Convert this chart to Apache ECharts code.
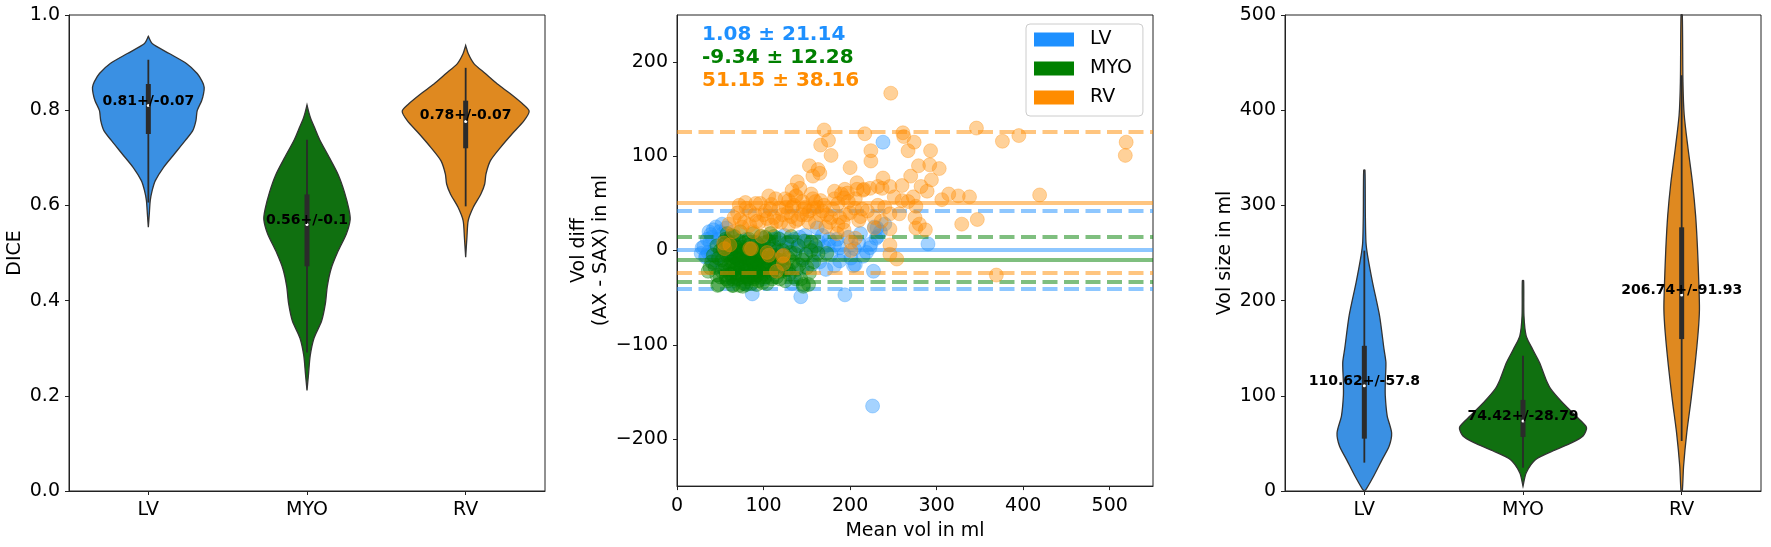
<!DOCTYPE html>
<html>
<head>
<meta charset="utf-8">
<script src="https://cdn.jsdelivr.net/npm/echarts@6/dist/echarts.min.js"></script>
<style>
html,body{margin:0;padding:0;background:#fff;}
#chart{width:1771px;height:547px;}
</style>
</head>
<body>
<div id="chart"></div>
<script>
const categories = ['LV', 'MYO', 'RV'];
const lineColors = ['#1E90FF', '#008000', '#FF8C00'];
const violinColors = ['#3a90e3', '#107010', '#df8920'];

// DICE violins: [value, relative half width]
const diceLvShape = [[0.955,0],[0.940,0.06],[0.919,0.33],[0.898,0.60],[0.877,0.77],[0.860,0.85],[0.848,0.88],[0.835,0.87],[0.820,0.84],[0.799,0.77],[0.778,0.75],[0.757,0.70],[0.736,0.58],[0.708,0.41],[0.680,0.24],[0.652,0.11],[0.631,0.06],[0.610,0.03],[0.582,0.015],[0.554,0]];
const diceMyoShape = [[0.811,0],[0.795,0.03],[0.782,0.06],[0.760,0.13],[0.738,0.20],[0.701,0.35],[0.665,0.49],[0.628,0.59],[0.592,0.66],[0.570,0.68],[0.540,0.62],[0.504,0.49],[0.467,0.38],[0.430,0.32],[0.394,0.29],[0.357,0.23],[0.321,0.11],[0.284,0.05],[0.247,0.025],[0.211,0]];
const diceRvShape = [[0.936,0],[0.919,0.04],[0.898,0.13],[0.877,0.31],[0.855,0.50],[0.834,0.71],[0.813,0.90],[0.798,1.0],[0.778,0.92],[0.750,0.73],[0.722,0.55],[0.694,0.39],[0.666,0.32],[0.645,0.30],[0.624,0.24],[0.596,0.12],[0.568,0.04],[0.533,0.02],[0.491,0]];
const diceQ1 = [0.750, 0.472, 0.720];
const diceQ3 = [0.855, 0.623, 0.820];
const diceWhiskerLo = [0.606, 0.291, 0.598];
const diceWhiskerHi = [0.906, 0.738, 0.889];
const diceMedian = [0.810, 0.560, 0.776];
const diceMean = [0.81, 0.56, 0.78];
const diceMeanText = ['0.81', '0.56', '0.78'];
const diceStdText = ['0.07', '0.1', '0.07'];

// Volume violins
const volLvShape = [[337,0.01],[290,0.016],[261,0.026],[247,0.052],[219,0.13],[184,0.24],[149,0.31],[135,0.34],[114,0.33],[100,0.33],[79,0.36],[61,0.43],[47,0.39],[33,0.28],[16,0.15],[2,0.03],[0,0]];
const volMyoShape = [[221,0.01],[184,0.015],[163,0.05],[149,0.15],[135,0.26],[117.5,0.36],[107,0.44],[93,0.62],[79,0.83],[67,1.0],[58,0.95],[51,0.78],[42,0.47],[33,0.2],[19,0.05],[5,0]];
const volRvShape = [[500,0.01],[430,0.02],[395,0.04],[360,0.10],[324,0.17],[289,0.22],[254,0.25],[219,0.27],[191,0.28],[167,0.26],[132,0.21],[97,0.15],[61,0.08],[26,0.03],[0,0.01]];
const volQ1 = [55, 56.8, 159.6];
const volQ3 = [152.5, 95.7, 277];
const volWhiskerLo = [29.8, 24.5, 52.6];
const volWhiskerHi = [252.5, 142, 436.6];
const volMedian = [110.5, 73.6, 205.9];
const volMean = [110.62, 74.42, 206.74];
const volMeanText = ['110.62', '74.42', '206.74'];
const volStdText = ['57.8', '28.79', '91.93'];

// Bland-Altman: [mean vol, vol diff]
const lvPoints = [[238,115],[226,-165],[290,7],[227,-22],[194,-47],[143,-49],[87,-46],[182,-16],[204,-16],[231,24],[230,13],[223,3],[219,-2],[193,-4],[188,3],[201,-8],[170,4],[162,2],[153,4],[133,-35],[49,20],[40,14],[29,3],[34,-6],[38,9],[65,-32],[79,-33],[124,16],[129,9],[117,13],[109,9],[100,13],[91,9],[73,5],[60,2],[47,-6],[42,-13],[148,16],[162,24],[228,25],[232,15],[224,7],[31,4],[39,17],[33,-7],[55,10],[62,-3],[70,-8],[85,-2],[95,-10],[105,-5],[112,2],[120,-12],[140,5],[145,-8],[150,10],[158,-3],[165,-12],[175,6],[178,-4],[185,12],[198,14],[205,2],[210,8],[215,-6],[235,20],[240,28],[212,18],[52,-18],[58,8],[75,-18],[90,-25],[100,-30],[128,-20],[135,-28],[110,-22],[145,-18],[44,3],[36,-2],[66,15],[80,12],[118,-4],[136,12],[156,-15],[172,-20],[188,-11],[206,-15],[45,25],[52,28],[35,12],[28,-3],[37,20],[42,22],[48,12],[53,18],[57,24],[44,-10],[40,-4],[112,12],[120,8],[126,4],[132,10],[138,2],[142,14],[163,10],[168,16],[176,12],[182,6]];
const myoPoints = [[36,-22],[40,-12],[42,-5],[44,-18],[46,5],[48,-36],[50,-28],[52,-10],[53,2],[55,-20],[56,12],[58,-5],[59,-32],[60,-15],[61,8],[62,-25],[63,-2],[64,-37],[65,-12],[66,15],[67,-20],[68,-8],[69,3],[70,-30],[71,-15],[72,10],[73,-5],[74,-25],[75,-12],[76,0],[77,-35],[78,-18],[79,5],[80,-8],[81,-28],[82,-15],[83,12],[84,-2],[85,-22],[86,-35],[87,-10],[88,2],[89,-18],[90,-28],[91,-5],[92,8],[93,-15],[94,-32],[95,-22],[96,-8],[97,15],[98,-12],[100,-25],[101,0],[102,-18],[104,-35],[105,-8],[106,10],[108,-20],[110,-30],[111,-5],[112,5],[114,-15],[115,-28],[117,-10],[118,12],[120,-22],[122,0],[124,-15],[125,-32],[127,8],[129,-8],[130,-25],[132,15],[134,-12],[136,-3],[138,-20],[140,5],[143,-30],[145,-10],[147,10],[150,-18],[152,-36],[155,0],[158,-12],[160,5],[163,-3],[112,15],[108,18],[102,14],[88,18],[76,-38],[66,-28],[58,18],[46,-26],[38,-18],[47,-37],[146,-38],[73,20],[63,16],[146,-36],[129,-20],[173,-3],[155,9],[48,-8],[50,0],[52,-22],[54,6],[55,-14],[57,-26],[58,10],[60,-4],[61,-20],[62,2],[63,-12],[64,-30],[66,-6],[67,6],[68,-24],[69,-14],[70,0],[71,-26],[72,-10],[73,4],[74,-18],[76,-28],[77,-6],[78,8],[79,-22],[80,-14],[81,0],[82,-30],[83,-8],[84,6],[85,-16],[86,-26],[87,-2],[88,-12],[89,-30],[90,2],[91,-20],[92,-12],[93,-26],[94,0],[95,-16],[96,4],[97,-28],[98,-6],[99,-20],[100,8],[101,-14],[102,-28],[103,-4],[104,-20],[106,-12],[107,2],[109,-24],[110,-8],[113,-18],[116,0],[119,-30],[121,-10],[126,-20],[131,-2],[137,-30],[141,-15],[149,-4],[153,-24],[57,-30],[65,-37],[72,-37],[80,-36],[92,-36],[99,-34]];
const rvPoints = [[247,167],[346,130],[376,116],[395,122],[519,115],[518,101],[419,59],[369,-26],[347,33],[329,28],[338,57],[325,58],[314,60],[306,54],[303,87],[293,106],[292,91],[294,75],[289,63],[282,68],[279,90],[274,115],[267,106],[262,121],[261,125],[270,79],[260,69],[260,53],[273,57],[275,35],[276,24],[280,28],[287,22],[276,47],[267,52],[246,68],[251,57],[238,77],[237,66],[232,68],[224,95],[224,106],[217,124],[223,66],[216,65],[208,72],[215,64],[200,88],[194,65],[197,61],[193,56],[182,63],[178,101],[175,117],[170,128],[166,112],[165,82],[163,86],[157,79],[153,90],[139,73],[133,64],[137,58],[129,53],[79,51],[91,50],[106,58],[109,49],[73,33],[240,46],[246,39],[257,39],[246,23],[246,6],[246,-4],[254,-9],[236,31],[228,24],[212,36],[206,13],[193,22],[186,27],[188,35],[201,0],[201,9],[173,38],[162,46],[153,42],[144,38],[137,31],[129,27],[122,38],[115,31],[109,27],[100,38],[92,31],[84,27],[84,2],[55,2],[104,-2],[122,-6],[115,-22],[133,46],[148,46],[157,55],[166,53],[142,66],[60,28],[65,20],[70,40],[75,25],[80,45],[88,20],[95,30],[98,15],[102,42],[112,35],[118,45],[125,55],[128,40],[135,48],[140,33],[145,52],[150,38],[155,60],[158,45],[160,30],[168,42],[172,25],[178,35],[182,55],[185,18],[190,60],[195,38],[198,52],[205,45],[208,65],[210,32],[220,42],[228,35],[232,48],[54,8],[61,6],[86,2],[106,-5],[123,-5],[123,-14],[66,35],[72,48],[78,30],[84,42],[90,38],[96,50],[104,34],[108,44],[114,55],[120,30],[126,46],[132,36],[138,58],[146,44],[152,30],[160,52],[165,38],[170,48],[176,30],[180,44],[186,50],[192,30],[200,40],[206,55],[214,44]];

const statMeanText = ['1.08', '-9.34', '51.15'];
const statStdText = ['21.14', '12.28', '38.16'];
const meanDiff = [1.08, -9.34, 51.15];
const upperLimit = [42.51, 14.73, 125.94];
const lowerLimit = [-40.35, -33.41, -23.64];

const FONT = '"DejaVu Sans", sans-serif';
const chart = echarts.init(document.getElementById('chart'));

function violinRender(shapes, q1, q3, wLo, wHi, med, means, meanText, stdText) {
    return function (params, api) {
        const i = params.dataIndex;
        const half = api.size([1, 0])[0] * 0.4;
        const leftSide = shapes[i].map(p => {
            const c = api.coord([i, p[0]]);
            return [c[0] - p[1] * half, c[1]];
        });
        const rightSide = shapes[i].slice().reverse().map(p => {
            const c = api.coord([i, p[0]]);
            return [c[0] + p[1] * half, c[1]];
        });
        const hi = api.coord([i, wHi[i]]);
        const lo = api.coord([i, wLo[i]]);
        const b3 = api.coord([i, q3[i]]);
        const b1 = api.coord([i, q1[i]]);
        const m = api.coord([i, med[i]]);
        const t = api.coord([i, means[i]]);
        return {
            type: 'group',
            children: [
                {type: 'polygon', shape: {points: leftSide.concat(rightSide), smooth: 0.25},
                 style: {fill: violinColors[i], stroke: '#333333', lineWidth: 1.3}},
                {type: 'line', shape: {x1: hi[0], y1: hi[1], x2: lo[0], y2: lo[1]},
                 style: {stroke: '#2b2b2b', lineWidth: 1.8}},
                {type: 'rect', shape: {x: b3[0] - 2.5, y: b3[1], width: 5, height: b1[1] - b3[1]},
                 style: {fill: '#2b2b2b'}},
                {type: 'circle', shape: {cx: m[0], cy: m[1], r: 1.5}, style: {fill: '#ffffff'}},
                {type: 'text', x: t[0], y: t[1] - 4,
                 style: {text: meanText[i] + '+/-' + stdText[i], align: 'center', verticalAlign: 'middle',
                         font: 'bold 14px ' + FONT, fill: '#000'}}
            ]
        };
    };
}

function catAxis(gi) {
    return {
        type: 'category', gridIndex: gi, data: categories,
        axisLine: {show: true, onZero: false, lineStyle: {color: '#222', width: 1}},
        axisTick: {show: true, alignWithLabel: true, length: 4, lineStyle: {color: '#222'}},
        axisLabel: {fontSize: 19, color: '#000', fontFamily: FONT, margin: 10},
        splitLine: {show: false}
    };
}

function valAxis(gi, min, max, interval, ticks, fmt, name, gap, isX) {
    return {
        type: 'value', gridIndex: gi, min: min, max: max, interval: interval,
        name: name, nameLocation: 'middle', nameGap: gap,
        nameTextStyle: {fontSize: 19, color: '#000', fontFamily: FONT, lineHeight: 22},
        axisLine: {show: true, onZero: false, lineStyle: {color: '#222', width: 1}},
        axisTick: {show: true, length: 4, lineStyle: {color: '#222'}, customValues: ticks},
        axisLabel: {fontSize: 19, color: '#000', fontFamily: FONT, margin: isX ? 10 : 9, formatter: fmt, customValues: ticks},
        splitLine: {show: false}
    };
}

const minusFmt = v => (v < 0 ? '\u2212' + Math.abs(v) : String(v));

function markLines(k) {
    const ls = {color: lineColors[k], width: 4, opacity: 0.5};
    return {
        silent: true, symbol: ['none', 'none'], label: {show: false}, z: 3 + 2 * k,
        animation: false,
        data: [
            {yAxis: meanDiff[k], lineStyle: Object.assign({type: 'solid'}, ls)},
            {yAxis: upperLimit[k], lineStyle: Object.assign({type: [15, 6.5]}, ls)},
            {yAxis: lowerLimit[k], lineStyle: Object.assign({type: [15, 6.5]}, ls)}
        ]
    };
}

const pointSets = [lvPoints, myoPoints, rvPoints];

const option = {
    animation: false,
    backgroundColor: '#fff',
    grid: [
        {left: 69, top: 15, width: 476, height: 476, show: true, borderColor: '#222', borderWidth: 1},
        {left: 677, top: 15, width: 476, height: 476, show: true, borderColor: '#222', borderWidth: 1},
        {left: 1285, top: 15, width: 476, height: 476, show: true, borderColor: '#222', borderWidth: 1}
    ],
    xAxis: [
        catAxis(0),
        valAxis(1, 0, 550, 50, [0, 100, 200, 300, 400, 500], v => String(v), 'Mean vol in ml', 30, true),
        catAxis(2)
    ],
    yAxis: [
        valAxis(0, 0, 1, 0.2, [0, 0.2, 0.4, 0.6, 0.8, 1.0], v => v.toFixed(1), 'DICE', 37.5),
        valAxis(1, -250, 250, 50, [-200, -100, 0, 100, 200], minusFmt, 'Vol diff\n(AX - SAX) in ml', 64),
        valAxis(2, 0, 500, 100, [0, 100, 200, 300, 400, 500], v => String(v), 'Vol size in ml', 48)
    ],
    legend: {
        orient: 'vertical', left: 1026, top: 24,
        icon: 'rect', itemWidth: 40, itemHeight: 14, itemGap: 10,
        padding: [6, 11, 9, 8],
        borderColor: '#cccccc', borderWidth: 1, borderRadius: 4,
        backgroundColor: 'rgba(255,255,255,0.8)',
        selectedMode: false,
        textStyle: {fontSize: 19, lineHeight: 19, color: '#000', fontFamily: FONT, padding: [0, 0, 0, 11]},
        data: categories.map((c, k) => ({name: c, itemStyle: {color: lineColors[k], opacity: 1, borderWidth: 0}}))
    },
    graphic: statMeanText.map((m, k) => ({
        type: 'text', left: 702, top: 24.3 + k * 23.3,
        style: {text: m + ' \u00b1 ' + statStdText[k], fill: lineColors[k], font: 'bold 20px ' + FONT}
    })),
    series: [
        {
            name: 'dice', type: 'custom', xAxisIndex: 0, yAxisIndex: 0,
            data: categories.map((c, i) => [i, diceMedian[i]]),
            renderItem: violinRender([diceLvShape, diceMyoShape, diceRvShape], diceQ1, diceQ3,
                diceWhiskerLo, diceWhiskerHi, diceMedian, diceMean, diceMeanText, diceStdText)
        },
        {
            name: 'vol', type: 'custom', xAxisIndex: 2, yAxisIndex: 2,
            data: categories.map((c, i) => [i, volMedian[i]]),
            renderItem: violinRender([volLvShape, volMyoShape, volRvShape], volQ1, volQ3,
                volWhiskerLo, volWhiskerHi, volMedian, volMean, volMeanText, volStdText)
        }
    ].concat(categories.map((c, k) => ({
        name: c, type: 'scatter', xAxisIndex: 1, yAxisIndex: 1, z: 2 + 2 * k,
        symbolSize: 14, silent: true,
        itemStyle: {color: lineColors[k], opacity: 0.4, borderColor: lineColors[k], borderWidth: 0.8},
        data: pointSets[k],
        markLine: markLines(k)
    })))
};

chart.setOption(option);
</script>
</body>
</html>
